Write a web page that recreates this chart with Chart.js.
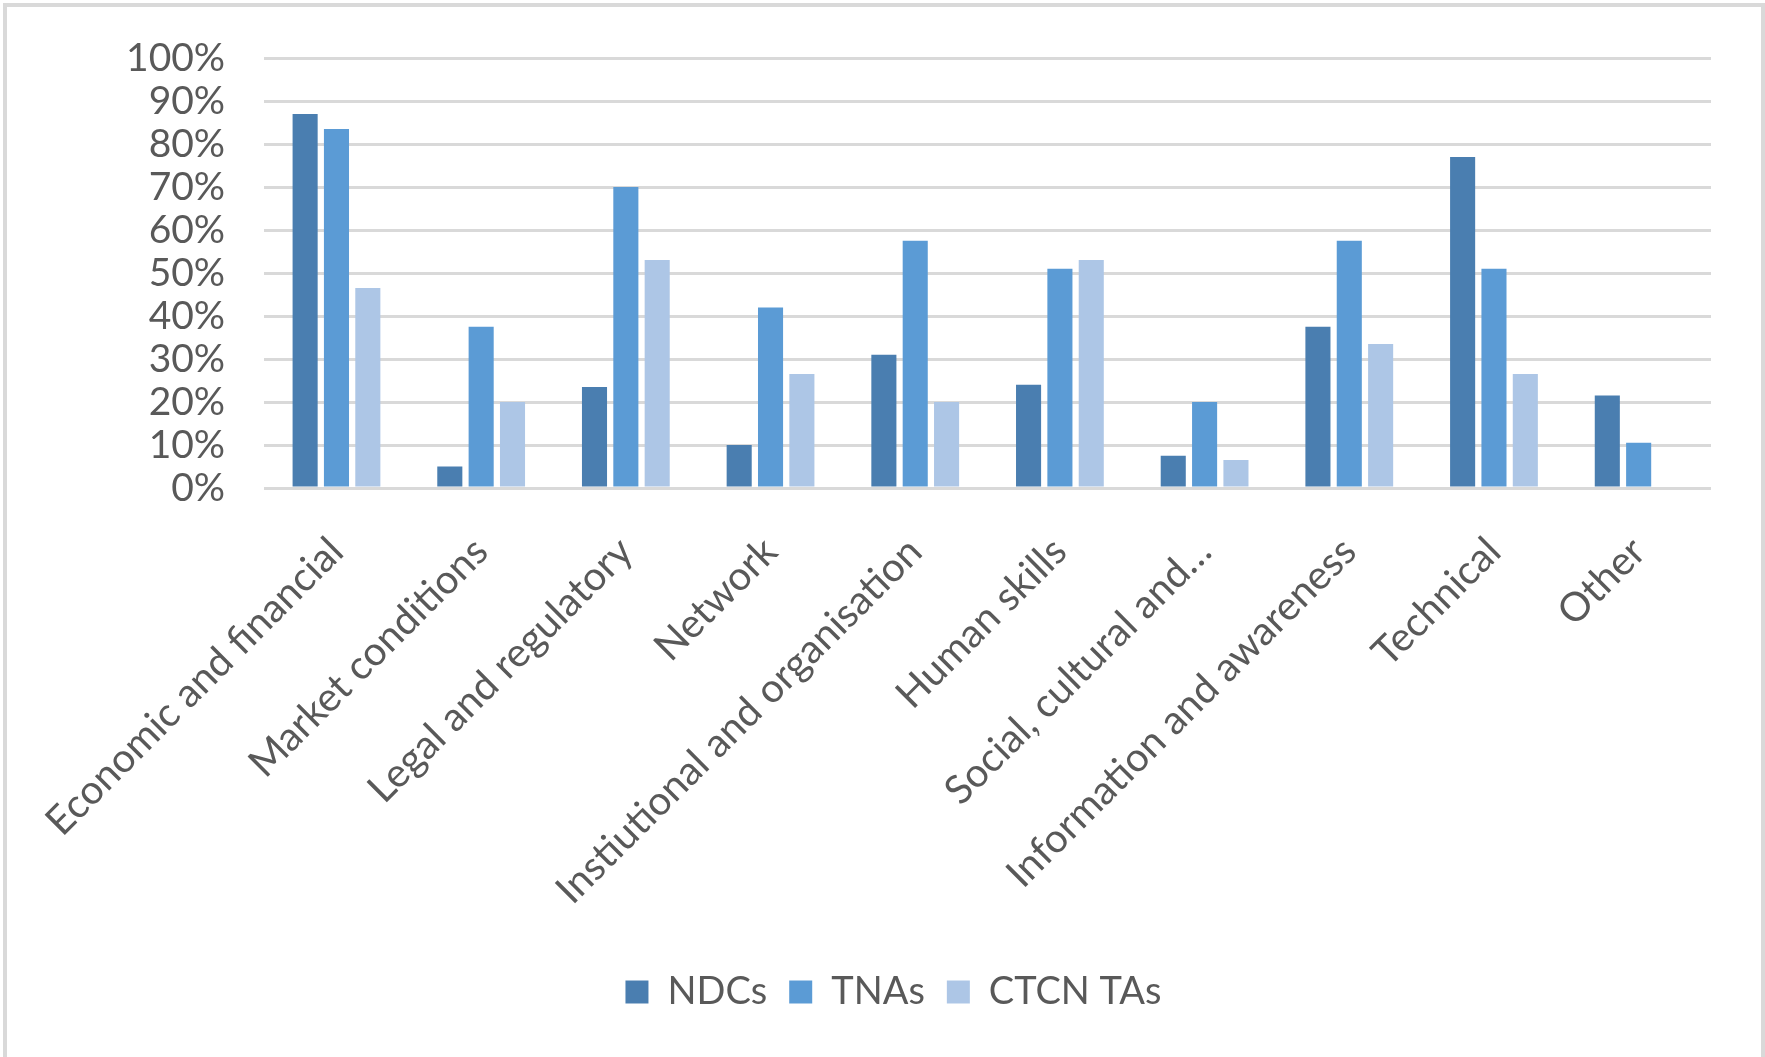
<!DOCTYPE html>
<html lang="en">
<head>
  <meta charset="UTF-8">
  <title>Barriers by source</title>
  <script src="https://cdn.jsdelivr.net/npm/chart.js"></script>
  <style>
    html, body { margin: 0; padding: 0; background: #fff; overflow: hidden; }
    #wrap { width: 1765px; height: 1057px; }
  </style>
</head>
<body>
<div id="wrap"><canvas id="barrierChart" width="1765" height="1057"></canvas></div>

<script>
// categories (x axis)
const categories = [
  "Economic and financial",
  "Market conditions",
  "Legal and regulatory",
  "Network",
  "Instiutional and organisation",
  "Human skills",
  "Social, cultural and…",
  "Information and awareness",
  "Technical",
  "Other"
];

// share of documents naming each barrier, in %
const ndcs   = [87, 5, 23.5, 10, 31, 24, 7.5, 37.5, 77, 21.5];
const tnas   = [83.5, 37.5, 70, 42, 57.5, 51, 20, 57.5, 51, 10.5];
const ctcnTa = [46.5, 20, 53, 26.5, 20, 53, 6.5, 33.5, 26.5, 0];

const yTicks = [0, 10, 20, 30, 40, 50, 60, 70, 80, 90, 100];

const txtColor = "#595959";
const gridColor = "#d9d9d9";

// light grey frame round the whole chart, like the excel export
const framePlugin = {
  id: "frame",
  beforeDraw(chart) {
    const c = chart.ctx;
    c.save();
    c.fillStyle = "#fff";
    c.fillRect(0, 0, chart.width, chart.height);
    c.strokeStyle = gridColor;
    c.lineWidth = 4;
    c.strokeRect(5, 5, chart.width - 7, chart.height + 10);
    c.restore();
  }
};

const ctx = document.getElementById("barrierChart").getContext("2d");
new Chart(ctx, {
  type: "bar",
  data: {
    labels: categories,
    datasets: [
      { label: "NDCs", data: ndcs, backgroundColor: "#4a7eb0" },
      { label: "TNAs", data: tnas, backgroundColor: "#5b9bd5" },
      { label: "CTCN TAs", data: ctcnTa, backgroundColor: "#adc6e6" }
    ]
  },
  plugins: [framePlugin],
  options: {
    responsive: false,
    animation: false,
    datasets: {
      bar: { categoryPercentage: 0.65, barPercentage: 0.8 }
    },
    layout: {
      padding: { top: 58, right: 54, bottom: 36, left: 76 }
    },
    plugins: {
      tooltip: { enabled: false },
      legend: {
        position: "bottom",
        labels: {
          color: txtColor,
          font: { family: "Lato", size: 38 },
          boxWidth: 23,
          boxHeight: 23,
          padding: 22
        }
      }
    },
    scales: {
      y: {
        min: 0,
        max: 100,
        afterBuildTicks: s => { s.ticks = yTicks.map(v => ({ value: v })); },
        afterFit: s => {
          s.width = 187;
          // tick padding would otherwise push the plot top down
          s.paddingTop = 20;
          s.paddingBottom = 20;
        },
        border: { display: false },
        grid: { color: gridColor, lineWidth: 3, drawTicks: false },
        ticks: {
          color: txtColor,
          font: { family: "Lato", size: 39 },
          autoSkip: false,
          padding: 39,
          callback: v => v + "%"
        }
      },
      x: {
        afterFit: s => { s.height = 463; },
        border: { display: false },
        grid: { display: false, drawTicks: false },
        ticks: {
          color: txtColor,
          font: { family: "Lato", size: 40 },
          maxRotation: 45,
          minRotation: 45,
          autoSkip: false,
          padding: 40
        }
      }
    }
  }
});
</script>
</body>
</html>
